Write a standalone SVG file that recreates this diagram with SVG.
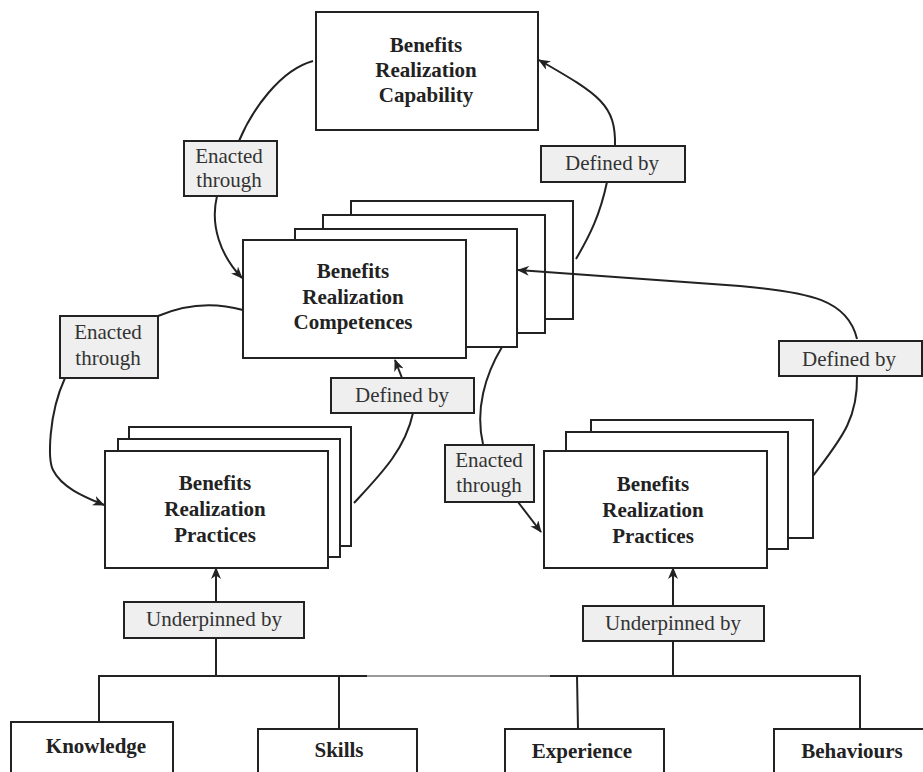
<svg xmlns="http://www.w3.org/2000/svg" width="923" height="772" viewBox="0 0 923 772">
<style>
.box{fill:#fff;stroke:#222;stroke-width:2}
.lab{fill:#efefef;stroke:#222;stroke-width:2}
.nt{font-family:"Liberation Serif","Times New Roman",serif;font-weight:bold;font-size:21px;fill:#222;text-anchor:middle}
.lt{font-family:"Liberation Serif","Times New Roman",serif;font-size:21px;fill:#333;text-anchor:middle}
.c{fill:none;stroke:#222;stroke-width:2}
.ca{fill:none;stroke:#222;stroke-width:2;marker-end:url(#ah)}
</style>
<defs>
<marker id="ah" viewBox="0 0 12 10" refX="11" refY="5" markerWidth="12" markerHeight="10" markerUnits="userSpaceOnUse" orient="auto">
<path d="M0,0 L12,5 L0,10 L3.5,5 z" fill="#222"/>
</marker>
</defs>
<rect width="923" height="772" fill="#fff"/>

<g id="capability">
<rect class="box" x="316" y="12" width="222" height="118"/>
<text class="nt" x="426" y="52">Benefits</text>
<text class="nt" x="426" y="77">Realization</text>
<text class="nt" x="426" y="102">Capability</text>
</g>

<g id="competences">
<rect class="box" x="351" y="201" width="222" height="118"/>
<rect class="box" x="323" y="215" width="222" height="118"/>
<rect class="box" x="295" y="229" width="222" height="118"/>
<rect class="box" x="243" y="240" width="223" height="118"/>
<text class="nt" x="353" y="278">Benefits</text>
<text class="nt" x="353" y="304">Realization</text>
<text class="nt" x="353" y="329">Competences</text>
</g>

<g id="practices-left">
<rect class="box" x="129" y="427" width="222" height="119"/>
<rect class="box" x="118" y="439" width="222" height="118"/>
<rect class="box" x="105" y="451" width="223" height="117"/>
<text class="nt" x="215" y="490">Benefits</text>
<text class="nt" x="215" y="516">Realization</text>
<text class="nt" x="215" y="542">Practices</text>
</g>

<g id="practices-right">
<rect class="box" x="591" y="420" width="222" height="118"/>
<rect class="box" x="566" y="432" width="222" height="117"/>
<rect class="box" x="544" y="451" width="223" height="117"/>
<text class="nt" x="653" y="491">Benefits</text>
<text class="nt" x="653" y="517">Realization</text>
<text class="nt" x="653" y="543">Practices</text>
</g>

<g id="knowledge">
<rect class="box" x="11" y="722" width="162" height="70"/>
<text class="nt" x="96" y="753">Knowledge</text>
</g>
<g id="skills">
<rect class="box" x="258" y="729" width="159" height="70"/>
<text class="nt" x="339" y="757">Skills</text>
</g>
<g id="experience">
<rect class="box" x="505" y="729" width="159" height="70"/>
<text class="nt" x="582" y="758">Experience</text>
</g>
<g id="behaviours">
<rect class="box" x="774" y="729" width="160" height="70"/>
<text class="nt" x="852" y="758">Behaviours</text>
</g>

<g id="connectors">
<path class="c" d="M313,61 C280,70 252,110 239,141"/>
<path class="ca" d="M217,196 C210,225 220,255 242,278"/>
<path class="ca" d="M615,146 C616,105 600,95 539,60"/>
<path class="c" d="M607,182 C600,215 590,235 576,259"/>
<path class="ca" d="M857,339 C848,300 810,292 740,286 L518,270"/>
<path class="c" d="M857,376 C858,420 840,440 813,476"/>
<path class="c" d="M243,310 C225,305 195,300 158,316"/>
<path class="ca" d="M65,378 C48,415 48,460 53,470 C62,488 85,497 104,505"/>
<path class="ca" d="M402,378 L395,360"/>
<path class="c" d="M413,413 C405,450 380,475 354,503"/>
<path class="c" d="M502,347 C485,375 475,410 483,444"/>
<path class="ca" d="M518,502 L541,532"/>
<path class="ca" d="M216,602 L216,568"/>
<path class="ca" d="M673,606 L673,568"/>
<path class="c" d="M216,638 V676 M673,641 V676"/>
<path class="c" d="M99,722 V676 H367 M550,676 H860 V729 M339,676 V729 M577,676 L578,729"/>
<path d="M367,676 H550" fill="none" stroke="#9a9a9a" stroke-width="2"/>
</g>

<g id="label-enacted-1">
<rect class="lab" x="184" y="141" width="93" height="55"/>
<text class="lt" x="229" y="163">Enacted</text>
<text class="lt" x="229" y="187">through</text>
</g>
<g id="label-defined-1">
<rect class="lab" x="541" y="146" width="144" height="36"/>
<text class="lt" x="612" y="170">Defined by</text>
</g>
<g id="label-enacted-2">
<rect class="lab" x="60" y="316" width="98" height="62"/>
<text class="lt" x="108" y="339">Enacted</text>
<text class="lt" x="108" y="365">through</text>
</g>
<g id="label-defined-2">
<rect class="lab" x="331" y="378" width="143" height="35"/>
<text class="lt" x="402" y="402">Defined by</text>
</g>
<g id="label-enacted-3">
<rect class="lab" x="445" y="445" width="89" height="57"/>
<text class="lt" x="489" y="467">Enacted</text>
<text class="lt" x="489" y="492">through</text>
</g>
<g id="label-defined-3">
<rect class="lab" x="779" y="341" width="143" height="35"/>
<text class="lt" x="849" y="366">Defined by</text>
</g>
<g id="label-underpinned-1">
<rect class="lab" x="124" y="602" width="180" height="36"/>
<text class="lt" x="214" y="626">Underpinned by</text>
</g>
<g id="label-underpinned-2">
<rect class="lab" x="583" y="606" width="181" height="35"/>
<text class="lt" x="673" y="630">Underpinned by</text>
</g>
</svg>
